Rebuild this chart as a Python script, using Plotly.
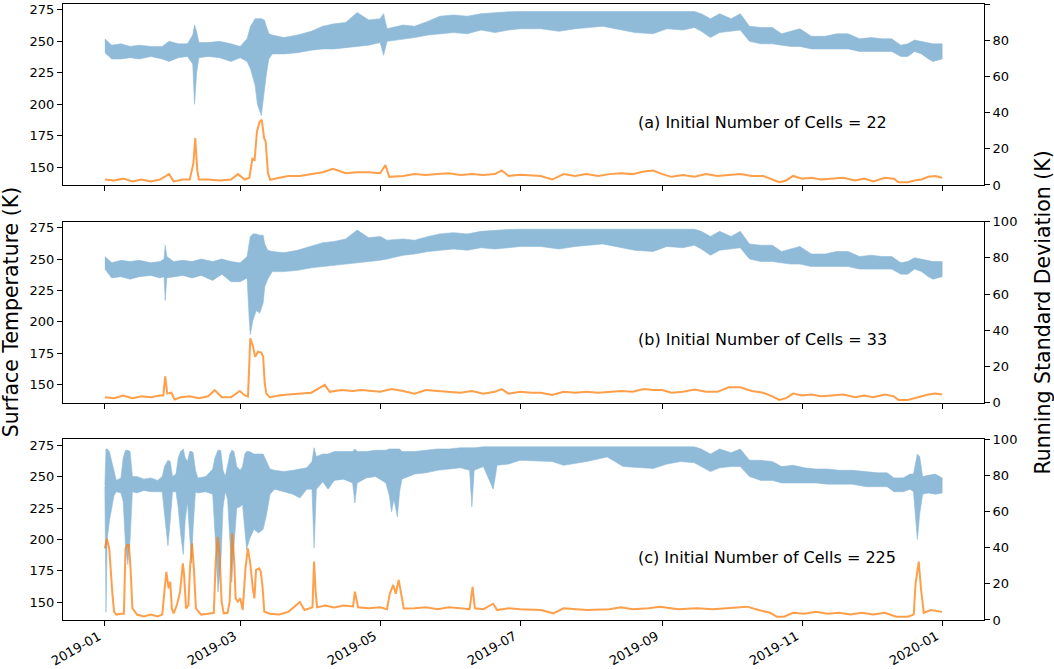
"""Температура поверхности и скользящее стандартное отклонение для трёх запусков"""

import pandas as pd
import plotly.graph_objects as go
from plotly.subplots import make_subplots

START = pd.Timestamp('2019-01-01')

# панель (a): дни от 1 января 2019, верх и низ суточных колебаний температуры (K)
days_temp_a = [0, 3, 7, 11, 15, 20, 25, 28, 32, 36,
               38.3, 39.1, 40, 41, 45, 50, 55, 59, 62, 63.5,
               65.5, 66.5, 68.2, 69.5, 70.5, 71.5, 73, 78, 84, 90,
               95, 100, 105, 110, 115, 120, 121.5, 123, 130, 135,
               141, 146, 152, 158, 164, 170, 176, 181, 190, 198,
               205, 217, 225, 231, 239, 245, 252, 257, 260, 264,
               268, 273, 277, 281, 286, 291, 295, 299, 303, 308,
               314, 319, 324, 329, 334, 339, 343, 347, 350, 353,
               356, 359, 361, 365]
temp_up_a = [252, 247, 248, 246, 247, 246, 246, 250, 248, 248,
             255, 263, 258, 249, 249, 250, 248, 246, 252, 262,
             268, 268, 268, 267, 262, 256, 255, 253, 255, 258,
             262, 264, 265, 273, 267, 268, 272, 260, 263, 262,
             266, 270, 271, 270, 272, 273, 273.5, 273.7, 273.7, 273.7,
             273.7, 273.7, 273.7, 273.7, 273.7, 273.7, 273.7, 273.7, 272, 268,
             272, 268, 272, 262, 261, 261, 256, 258, 260, 254,
             254, 256, 256, 252, 253, 252, 252, 247, 248, 251,
             250, 249, 248, 248]
temp_low_a = [241, 236, 236, 237, 236, 238, 236, 234, 237, 238,
              232, 200, 225, 237, 238, 237, 234, 237, 234, 228,
              215, 200, 191, 210, 225, 236, 240, 240, 241, 243,
              244, 244, 245, 246, 247, 249, 239, 250, 252, 253,
              255, 256, 257, 256, 259, 257, 259, 260, 260, 258,
              260, 262, 259, 257, 256, 260, 259, 261, 258, 253,
              257, 258, 259, 250, 248, 248, 247, 246, 246, 244,
              244, 244, 244, 242, 242, 242, 242, 238, 238, 242,
              240, 236, 234, 236]
# скользящее стандартное отклонение (K)
days_std_a = [0, 4, 8, 12, 16, 20, 24, 28, 30, 34,
              37, 38.6, 39.4, 40.3, 41, 45, 50, 55, 58, 61,
              63, 64.3, 65.3, 66.3, 67.5, 68.4, 69.4, 70.1, 71.1, 72.1,
              76, 80, 85, 90, 95, 99.5, 105, 110, 115, 120,
              122.3, 124, 130, 135, 140, 145, 150, 155, 160, 165,
              170, 173, 176, 181, 186, 190, 195, 200, 205, 210,
              215, 220, 225, 230, 235, 239, 243, 247, 252, 257,
              262, 267, 272, 277, 282, 287, 291, 294, 297, 300,
              304, 308, 312, 317, 322, 327, 331, 335, 340, 344,
              346, 350, 353, 356, 359, 362, 365]
std_a = [3, 2.5, 3.5, 2, 3, 2, 3, 6, 2, 3,
         3, 12, 26, 8, 3, 3, 2.5, 3, 6, 3,
         4, 14.5, 14, 29.5, 35, 36, 26, 24, 6.4, 2.8,
         4, 5, 5, 6, 7, 9, 6.5, 7, 7, 6.5,
         11, 4.5, 5, 6, 5.5, 6, 6.5, 5.5, 6, 5.5,
         6, 8, 5, 5.7, 5.5, 5, 3, 6, 5, 6,
         5, 6, 6.5, 6, 7.5, 8, 6, 4.5, 5.5, 4.5,
         6, 5, 5.5, 6, 5, 5, 3, 1.5, 2.5, 5,
         3.5, 4, 3, 3.5, 4, 2.5, 3.5, 2, 4, 3.5,
         1.5, 1.5, 2.5, 3, 4.5, 5, 4]

# панель (b)
days_temp_b = [0, 3, 7, 11, 15, 20, 24, 25.8, 26.3, 27,
               30, 34, 38, 42, 47, 51, 55, 59, 62, 63,
               63.4, 64.5, 66, 67.5, 69, 69.7, 71, 73, 78, 84,
               90, 95, 100, 105, 110, 115, 120, 123, 130, 135,
               141, 146, 152, 158, 164, 170, 176, 181, 190, 198,
               205, 217, 225, 231, 239, 245, 252, 257, 260, 264,
               268, 273, 277, 281, 286, 291, 295, 299, 303, 308,
               314, 319, 324, 329, 334, 339, 343, 347, 350, 353,
               356, 359, 361, 365]
temp_up_b = [252, 247, 249, 248, 249, 247, 248, 250, 261, 252,
             248, 249, 248, 250, 248, 250, 248, 247, 252, 262,
             268, 270, 270, 269, 269, 262, 257, 256, 255, 257,
             260, 263, 264, 266, 273, 267, 268, 265, 266, 265,
             268, 270, 271, 270, 272, 273, 273.5, 273.7, 273.7, 273.7,
             273.7, 273.7, 273.7, 273.7, 273.7, 273.7, 273.7, 273.7, 272, 268,
             272, 268, 272, 262, 261, 261, 256, 258, 260, 254,
             254, 256, 256, 252, 253, 252, 252, 247, 248, 251,
             250, 249, 248, 248]
temp_low_b = [242, 235, 236, 234, 236, 237, 235, 236, 217, 235,
              236, 237, 235, 237, 233, 238, 232, 232, 235, 200,
              190, 201, 209, 207, 215, 228, 234, 240, 240, 241,
              243, 244, 245, 246, 247, 248, 249, 250, 253, 254,
              256, 257, 258, 257, 259, 258, 259, 260, 260, 258,
              260, 262, 259, 257, 256, 260, 259, 261, 258, 253,
              257, 258, 259, 250, 248, 248, 247, 246, 246, 244,
              244, 244, 244, 242, 242, 242, 242, 238, 238, 242,
              240, 236, 234, 236]
days_std_b = [0, 4, 8, 12, 16, 20, 24, 25.5, 26.3, 27.2,
              29, 30.4, 33, 37, 41, 45, 47.9, 51, 55, 58.8,
              61, 62.4, 63.4, 64.6, 65.5, 66.8, 68.2, 69, 69.7, 70.4,
              71.9, 76, 80, 85, 90, 95.9, 98, 103, 108, 112,
              116, 120, 125, 130, 135, 140, 145, 150, 155, 160,
              165, 170, 173, 176, 181, 186, 190, 195, 200, 205,
              210, 215, 220, 225, 230, 235, 239, 243, 247, 252,
              257, 262, 267, 272, 277, 282, 287, 291, 294, 297,
              300, 304, 308, 312, 317, 322, 327, 331, 335, 340,
              344, 346, 350, 353, 356, 359, 362, 365]
std_b = [3, 2.5, 4, 2.5, 3.5, 3, 4, 4, 14.5, 5,
         5.5, 1.8, 3, 3.5, 2.5, 3.5, 6.9, 3, 3, 6.5,
         4, 3.5, 35.6, 31, 25.4, 28.2, 27.7, 25.4, 10.6, 5,
         3, 4, 4.5, 5, 5.5, 9.8, 6, 7, 6.5, 7,
         6.5, 6, 7.5, 6.5, 5, 7, 6.5, 6, 5.5, 6.5,
         5, 6, 7.5, 5, 6, 5.5, 5.5, 4.3, 6, 5.5,
         6, 5.5, 6, 6.5, 6, 7.5, 7, 7, 5.5, 6,
         7.3, 6, 6, 8.5, 8.5, 6.5, 5.5, 3.5, 1.5, 2.5,
         5, 4, 4.5, 3.5, 4, 4.5, 3, 4, 3, 4.5,
         3.5, 1.5, 1.5, 2.5, 3.3, 4.5, 5, 4.5]

# панель (c)
days_temp_c = [0, 0.5, 1, 2, 3, 4, 5, 7, 8, 9,
               10, 11, 12, 14, 17, 20, 23, 25, 26, 27.5,
               28.5, 29.5, 31, 32, 33, 34.2, 35, 36, 37, 37.8,
               38.5, 39.5, 40.5, 44, 47, 48, 49.3, 50.5, 51.5, 52.5,
               53.5, 54.5, 55.3, 56.3, 57.5, 59, 60, 61, 61.8, 63,
               65, 67, 69, 70.5, 72, 74, 78, 82, 85, 88,
               90.3, 91.2, 92.2, 95, 97.3, 100, 104, 108, 109, 110,
               114, 118, 122.5, 124, 125, 126, 127.5, 128.5, 129.5, 135,
               140, 145, 150, 155, 159, 160, 161, 165, 169.3, 171,
               176, 181, 195, 200, 210, 219, 226, 232, 239, 245,
               251, 257, 260, 264, 268, 273, 277, 281, 286, 291,
               295, 300, 305, 310, 315, 320, 326, 332, 337, 341,
               344, 348, 351, 352.5, 353.5, 354.2, 355.2, 356.5, 359, 362,
               365]
temp_up_c = [243, 272, 272, 270, 262, 255, 247, 249, 265, 271,
             271, 270, 250, 250, 248, 249, 247, 250, 258, 263,
             262, 250, 252, 265, 270, 272, 265, 262, 270, 270,
             269, 255, 249, 250, 256, 265, 271, 271, 255, 250,
             258, 268, 271, 270, 258, 255, 258, 268, 270, 270,
             268, 268, 268, 262, 256, 255, 254, 255, 256, 257,
             262, 273, 266, 268, 268, 270, 270, 270, 272, 270,
             270, 271, 271, 272, 272, 272, 272, 272, 270, 270,
             271, 272, 272, 273, 273, 273, 273, 273.7, 273.7, 273.7,
             273.7, 273.7, 273.7, 273.7, 273.7, 273.7, 273.7, 273.7, 273.7, 273.7,
             273.7, 273.7, 272, 268, 272, 269, 272, 263, 263, 262,
             258, 259, 257, 256, 256, 255, 255, 254, 253, 253,
             249, 249, 252, 252, 262, 268, 266, 250, 251, 252,
             249]
temp_low_c = [242, 142, 200, 215, 225, 235, 238, 237, 230, 195,
              180, 200, 238, 237, 239, 238, 238, 238, 220, 195,
              215, 238, 238, 225, 205, 188, 215, 230, 200, 181,
              210, 238, 237, 238, 236, 205, 158, 180, 225, 238,
              232, 200, 166, 195, 225, 226, 228, 210, 192, 200,
              208, 205, 208, 220, 236, 240, 238, 236, 233, 240,
              240, 193, 240, 246, 240, 247, 248, 245, 229, 245,
              249, 250, 245, 235, 222, 232, 218, 238, 248, 252,
              253, 255, 256, 257, 255, 226, 255, 258, 240, 259,
              260, 263, 262, 259, 262, 265.7, 258, 257, 256.5, 260,
              262, 261, 258, 254, 257, 258, 258, 250, 247, 247,
              245, 245, 245, 245, 244, 244, 244, 242, 242, 242,
              238, 238, 240, 238, 215, 200, 220, 236, 237, 236,
              237]
days_std_c = [0, 0.9, 1.9, 2.6, 3.3, 4, 5, 7, 8.3, 9,
              9.8, 10.5, 11.2, 12, 14, 17, 20, 23, 25, 26.8,
              27.8, 28.5, 29.2, 30, 31.4, 32.8, 34, 34.5, 35.4, 36.4,
              37.1, 38, 38.8, 39.7, 42, 45, 47.5, 48.3, 49.2, 50,
              50.9, 51.8, 53.5, 54.4, 55.5, 56.4, 57, 58, 59, 60.1,
              61.3, 62.3, 63.3, 64.5, 65.2, 65.9, 67.3, 68, 68.8, 69.5,
              72, 76, 80, 85, 87, 90.5, 91.2, 91.9, 92.5, 96,
              100, 104, 108.2, 109, 110.4, 115, 120, 123, 124.2, 125.7,
              126.8, 128.1, 129.3, 130.3, 135, 140, 145, 150, 155, 159,
              160.3, 161.3, 165, 169.3, 171, 176, 181, 190, 195.5, 200,
              210, 220, 225, 230, 237, 242, 250, 258, 265, 272,
              280, 285, 290, 293, 296, 300, 305, 310, 315, 320,
              325, 330, 335, 340, 345, 350, 352.6, 353.4, 354.8, 355.8,
              357, 360, 363, 365]
std_c = [39.6, 45, 39.6, 25.7, 14.5, 4.6, 3, 3.5, 3.5, 39.6,
         41.5, 41.5, 28.6, 6.5, 3, 2, 3, 2, 3, 26.7,
         17.5, 21.2, 6.4, 3.7, 8.3, 15.7, 31.4, 25.7, 6.4, 8,
         28.6, 42.4, 28.6, 6.4, 3, 3.5, 4, 32.3, 46.1, 36,
         10.2, 3.7, 4, 10, 48, 32.3, 12, 10.2, 12, 5.6,
         28.6, 39.6, 32.3, 17.5, 12, 27.7, 28.6, 26.7, 17.5, 4.6,
         3.5, 3, 4.5, 10, 5.5, 7, 32.3, 15.7, 7, 8,
         7, 8, 7.5, 15.7, 7, 6.5, 7, 6, 14.5, 19.4,
         14.5, 22.2, 14.5, 6.4, 6.5, 7, 6, 7, 6.5, 6,
         18.4, 6.5, 6, 9, 5.5, 6.5, 6, 5.5, 3.7, 6.5,
         5.5, 6, 7, 6, 6.5, 7.4, 6, 6.5, 6, 6.5,
         7.4, 5.5, 4, 1.8, 1.8, 4, 3.5, 4.5, 3.5, 4,
         3, 4, 3, 4, 1.8, 1.8, 3, 20, 32.3, 17,
         4, 5.5, 5, 4.5]

panel_labels = ['(a) Initial Number of Cells = 22',
                '(b) Initial Number of Cells = 33',
                '(c) Initial Number of Cells = 225']
tick_dates = ['2019-01-01', '2019-03-01', '2019-05-01', '2019-07-01',
              '2019-09-01', '2019-11-01', '2020-01-01']
tick_months = ['2019-01', '2019-03', '2019-05', '2019-07',
               '2019-09', '2019-11', '2020-01']
temp_ticks = [150, 175, 200, 225, 250, 275]
std_ticks = [0, 20, 40, 60, 80, 100]

BLUE = '#8fbbd9'
ORANGE = 'rgba(255, 127, 14, 0.75)'
FONT = 'DejaVu Sans'


def to_dates(days):
    # перевод дней от начала года в даты
    return START + pd.to_timedelta(days, unit='D')


panels = [
    (days_temp_a, temp_up_a, temp_low_a, days_std_a, std_a),
    (days_temp_b, temp_up_b, temp_low_b, days_std_b, std_b),
    (days_temp_c, temp_up_c, temp_low_c, days_std_c, std_c),
]

fig = make_subplots(rows=3, cols=1, specs=[[{'secondary_y': True}]] * 3)

for i, (d_t, up, low, d_s, s) in enumerate(panels, start=1):
    # полоса суточного хода: верхняя граница туда, нижняя обратно
    fig.add_trace(go.Scatter(x=to_dates(d_t + d_t[::-1]), y=up + low[::-1],
                             fill='toself', fillcolor=BLUE, mode='lines',
                             line=dict(color=BLUE, width=0.6),
                             showlegend=False, hoverinfo='skip'),
                  row=i, col=1, secondary_y=False)
    fig.add_trace(go.Scatter(x=to_dates(d_s), y=s, mode='lines',
                             line=dict(color=ORANGE, width=2),
                             showlegend=False),
                  row=i, col=1, secondary_y=True)

axis_style = dict(showline=True, linecolor='black', linewidth=1,
                  ticks='outside', ticklen=5, tickwidth=1, tickcolor='black',
                  showgrid=False, zeroline=False, automargin=False,
                  tickfont=dict(family=FONT, size=13, color='black'))

domains = [[0.7062, 1.0], [0.3528, 0.6466], [0.0, 0.2933]]
x_names = ['xaxis', 'xaxis2', 'xaxis3']
y_names = [('yaxis', 'yaxis2'), ('yaxis3', 'yaxis4'), ('yaxis5', 'yaxis6')]
layout = {}
for i in range(3):
    layout[x_names[i]] = dict(axis_style, mirror=True, type='date', domain=[0, 1],
                              range=['2018-12-13 18:00', '2020-01-19 06:00'],
                              tickmode='array', tickvals=tick_dates,
                              showticklabels=False)
    left, right = y_names[i]
    layout[left] = dict(axis_style, domain=domains[i], range=[135.8, 279.7],
                        tickmode='array', tickvals=temp_ticks)
    layout[right] = dict(axis_style, domain=domains[i], range=[0, 100.02],
                         tickmode='array', tickvals=std_ticks, side='right')

fig.update_layout(**layout)

# подписи дат под нижней панелью, повёрнутые как в matplotlib
for d, m in zip(tick_dates, tick_months):
    fig.add_annotation(text=m, x=d, xref='x3', y=-0.012, yref='paper',
                       xanchor='right', yanchor='top', textangle=-30,
                       showarrow=False, borderpad=0,
                       font=dict(family=FONT, size=13, color='black'))

# подписи панелей
x_refs = ['x domain', 'x2 domain', 'x3 domain']
y_refs = ['y domain', 'y3 domain', 'y5 domain']
for i, label in enumerate(panel_labels):
    fig.add_annotation(text=label, xref=x_refs[i], yref=y_refs[i],
                       x=0.6226, y=0.347, xanchor='left', yanchor='middle',
                       showarrow=False, font=dict(family=FONT, size=16, color='black'))

# общие подписи осей
fig.add_annotation(text='Surface Temperature (K)', xref='paper', yref='paper',
                   x=-0.0562, y=0.5, xanchor='center', yanchor='middle',
                   textangle=-90, showarrow=False, borderpad=0,
                   font=dict(family=FONT, size=20.5, color='black'))
fig.add_annotation(text='Running Standard Deviation (K)', xref='paper', yref='paper',
                   x=1.0646, y=0.5, xanchor='center', yanchor='middle',
                   textangle=-90, showarrow=False, borderpad=0,
                   font=dict(family=FONT, size=20.5, color='black'))

fig.update_layout(width=1054, height=669, template='none',
                  paper_bgcolor='white', plot_bgcolor='white',
                  margin=dict(l=63, r=70, t=4, b=49),
                  font=dict(family=FONT, color='black'))

# убираем отступ страницы, чтобы рисунок стоял в углу окна
fig.write_html('out.html', config={'displayModeBar': False},
               post_script="document.body.style.margin = '0';")
